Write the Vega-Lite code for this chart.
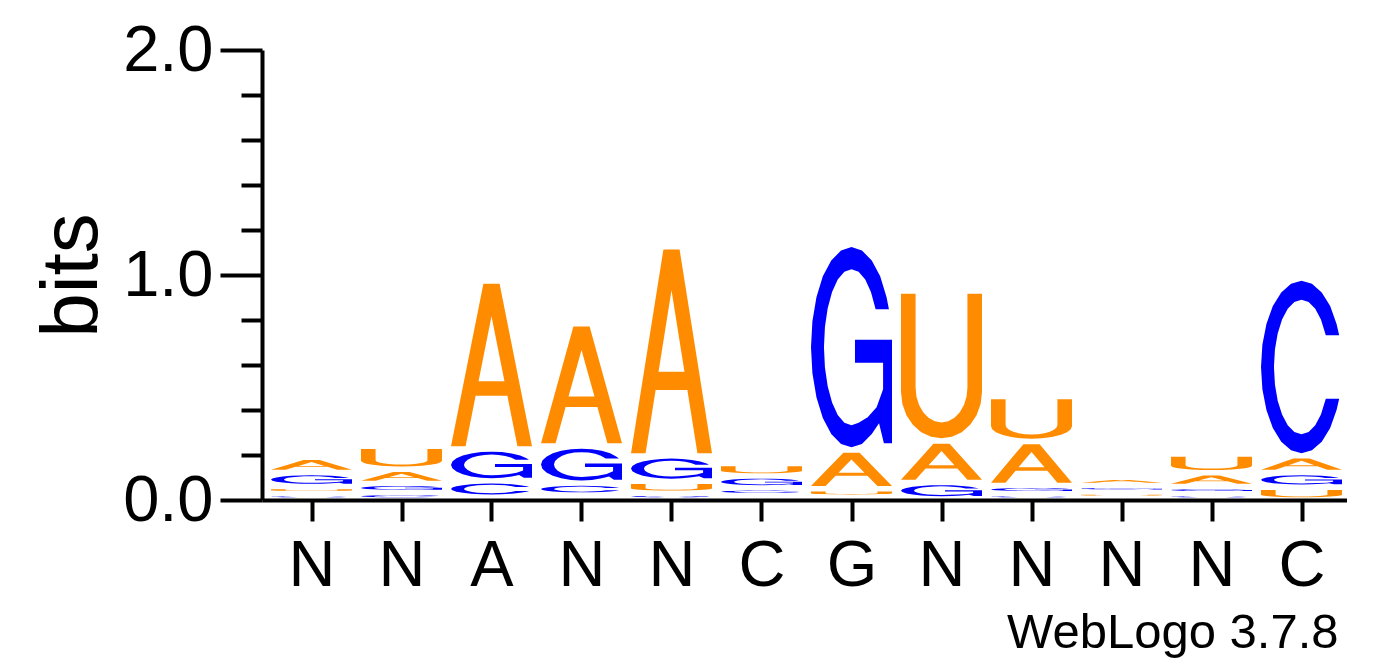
{
  "$schema": "https://vega.github.io/schema/vega-lite/v6.json",
  "description": "Sequence logo (WebLogo style), letter glyphs stacked by information content",
  "autosize": "none",
  "width": 1084.5,
  "height": 450,
  "padding": {"left": 262, "top": 50, "right": 45.5, "bottom": 167},
  "config": {
    "font": "Liberation Sans",
    "view": {"stroke": null},
    "axis": {
      "grid": false,
      "domainColor": "black",
      "domainWidth": 4,
      "tickColor": "black",
      "tickWidth": 4,
      "labelColor": "black",
      "labelFont": "Liberation Sans",
      "labelFontSize": 65,
      "titleFont": "Liberation Sans",
      "titleColor": "black",
      "titleFontWeight": "normal"
    }
  },
  "title": {
    "text": "WebLogo 3.7.8",
    "orient": "bottom",
    "anchor": "end",
    "font": "Liberation Sans",
    "fontSize": 49,
    "fontWeight": "normal",
    "color": "black",
    "offset": 11,
    "dx": -8
  },
  "datasets": {
    "glyphs": [
      {"base": "A",
       "gx": [0, 0.18, 0.304, 0.696, 0.82, 1, 0.6, 0.4, 0.24, 0.42, 0.5, 0.66, 0.34, 0.42, 0.24, 0],
       "gy": [0, 0, 0.31, 0.31, 0, 0, 1, 1, 0.6, 0.6, 0.8, 0.4, 0.4, 0.6, 0.6, 0]},
      {"base": "U",
       "gx": [0, 0, 0.017, 0.067, 0.146, 0.25, 0.371, 0.5, 0.629, 0.75, 0.854, 0.933, 0.983, 1, 1, 0.82, 0.82, 0.809, 0.777, 0.726, 0.66, 0.583, 0.5, 0.417, 0.34, 0.274, 0.223, 0.191, 0.18, 0.18, 0],
       "gy": [1, 0.32, 0.237, 0.16, 0.094, 0.043, 0.011, 0, 0.011, 0.043, 0.094, 0.16, 0.237, 0.32, 1, 1, 0.35, 0.288, 0.23, 0.18, 0.142, 0.118, 0.11, 0.118, 0.142, 0.18, 0.23, 0.288, 0.35, 1, 1]},
      {"base": "C",
       "gx": [0.965, 0.933, 0.854, 0.75, 0.629, 0.5, 0.371, 0.25, 0.146, 0.067, 0.017, 0, 0.017, 0.067, 0.146, 0.25, 0.371, 0.5, 0.629, 0.75, 0.854, 0.933, 0.965, 0.8, 0.74, 0.67, 0.588, 0.5, 0.412, 0.33, 0.26, 0.206, 0.172, 0.16, 0.172, 0.206, 0.26, 0.33, 0.412, 0.5, 0.588, 0.67, 0.74, 0.8, 0.965],
       "gy": [0.684, 0.75, 0.854, 0.933, 0.983, 1, 0.983, 0.933, 0.854, 0.75, 0.629, 0.5, 0.371, 0.25, 0.146, 0.067, 0.017, 0, 0.017, 0.067, 0.146, 0.25, 0.316, 0.316, 0.224, 0.162, 0.123, 0.11, 0.123, 0.162, 0.224, 0.305, 0.399, 0.5, 0.601, 0.695, 0.776, 0.838, 0.877, 0.89, 0.877, 0.838, 0.776, 0.684, 0.684]},
      {"base": "G",
       "gx": [0.962, 0.933, 0.854, 0.75, 0.629, 0.5, 0.371, 0.25, 0.146, 0.067, 0.017, 0, 0.017, 0.067, 0.146, 0.25, 0.371, 0.5, 0.629, 0.75, 0.84, 0.9, 1, 1, 0.543, 0.543, 0.89, 0.89, 0.81, 0.7, 0.588, 0.5, 0.412, 0.33, 0.26, 0.206, 0.172, 0.16, 0.172, 0.206, 0.26, 0.33, 0.412, 0.5, 0.588, 0.67, 0.74, 0.798, 0.962],
       "gy": [0.69, 0.75, 0.854, 0.933, 0.983, 1, 0.983, 0.933, 0.854, 0.75, 0.629, 0.5, 0.371, 0.25, 0.146, 0.067, 0.017, 0, 0.017, 0.067, 0.12, 0.02, 0.02, 0.537, 0.537, 0.423, 0.423, 0.29, 0.2, 0.15, 0.123, 0.11, 0.123, 0.162, 0.224, 0.305, 0.399, 0.5, 0.601, 0.695, 0.776, 0.838, 0.877, 0.89, 0.877, 0.838, 0.776, 0.69, 0.69]}
    ]
  },
  "data": {
    "values": [
      {"pos": 1, "base": "C", "bits": 0.028}, {"pos": 1, "base": "U", "bits": 0.032}, {"pos": 1, "base": "G", "bits": 0.062}, {"pos": 1, "base": "A", "bits": 0.068},
      {"pos": 2, "base": "C", "bits": 0.033}, {"pos": 2, "base": "G", "bits": 0.041}, {"pos": 2, "base": "A", "bits": 0.063}, {"pos": 2, "base": "U", "bits": 0.102},
      {"pos": 3, "base": "U", "bits": 0.013}, {"pos": 3, "base": "C", "bits": 0.072}, {"pos": 3, "base": "G", "bits": 0.142}, {"pos": 3, "base": "A", "bits": 0.746},
      {"pos": 4, "base": "U", "bits": 0.022}, {"pos": 4, "base": "C", "bits": 0.053}, {"pos": 4, "base": "G", "bits": 0.165}, {"pos": 4, "base": "A", "bits": 0.543},
      {"pos": 5, "base": "C", "bits": 0.030}, {"pos": 5, "base": "U", "bits": 0.053}, {"pos": 5, "base": "G", "bits": 0.113}, {"pos": 5, "base": "A", "bits": 0.929},
      {"pos": 6, "base": "A", "bits": 0.020}, {"pos": 6, "base": "C", "bits": 0.034}, {"pos": 6, "base": "G", "bits": 0.053}, {"pos": 6, "base": "U", "bits": 0.055},
      {"pos": 7, "base": "C", "bits": 0.013}, {"pos": 7, "base": "U", "bits": 0.037}, {"pos": 7, "base": "A", "bits": 0.172}, {"pos": 7, "base": "G", "bits": 0.914},
      {"pos": 8, "base": "C", "bits": 0.005}, {"pos": 8, "base": "G", "bits": 0.073}, {"pos": 8, "base": "A", "bits": 0.184}, {"pos": 8, "base": "U", "bits": 0.667},
      {"pos": 9, "base": "C", "bits": 0.028}, {"pos": 9, "base": "G", "bits": 0.037}, {"pos": 9, "base": "A", "bits": 0.195}, {"pos": 9, "base": "U", "bits": 0.200},
      {"pos": 10, "base": "C", "bits": 0.008}, {"pos": 10, "base": "U", "bits": 0.027}, {"pos": 10, "base": "G", "bits": 0.030}, {"pos": 10, "base": "A", "bits": 0.036},
      {"pos": 11, "base": "C", "bits": 0.028}, {"pos": 11, "base": "G", "bits": 0.032}, {"pos": 11, "base": "A", "bits": 0.061}, {"pos": 11, "base": "U", "bits": 0.083},
      {"pos": 12, "base": "U", "bits": 0.057}, {"pos": 12, "base": "G", "bits": 0.065}, {"pos": 12, "base": "A", "bits": 0.074}, {"pos": 12, "base": "C", "bits": 0.790}
    ]
  },
  "transform": [
    {"stack": "bits", "groupby": ["pos"], "sort": [{"field": "bits", "order": "ascending"}], "as": ["y0", "y1"]},
    {"lookup": "base", "from": {"data": {"name": "glyphs"}, "key": "base", "fields": ["gx", "gy"]}},
    {"flatten": ["gx", "gy"]},
    {"window": [{"op": "row_number", "as": "k"}], "groupby": ["pos", "base"]},
    {"calculate": "datum.pos - 0.45 + datum.gx * 0.9", "as": "x"},
    {"calculate": "datum.y0 + 0.012 + datum.gy * max(0, datum.y1 - datum.y0 - 0.024)", "as": "y"}
  ],
  "mark": {"type": "line", "strokeWidth": 0, "strokeOpacity": 0, "fillOpacity": 1, "interpolate": "linear"},
  "encoding": {
    "x": {
      "field": "x",
      "type": "quantitative",
      "scale": {"domain": [0.45, 12.5], "nice": false, "zero": false},
      "axis": {
        "title": null,
        "values": [1, 2, 3, 4, 5, 6, 7, 8, 9, 10, 11, 12],
        "labelExpr": "['N','N','A','N','N','C','G','N','N','N','N','C'][datum.value - 1]",
        "domainWidth": 4,
        "tickWidth": 4,
        "tickSize": 21,
        "labelPadding": 13,
        "labelAngle": 0,
        "labelFlush": false,
        "labelOverlap": false
      }
    },
    "y": {
      "field": "y",
      "type": "quantitative",
      "scale": {"domain": [0, 2], "nice": false, "zero": true},
      "axis": {
        "title": "bits",
        "titleFontSize": 80,
        "titlePadding": 9,
        "values": [0, 0.2, 0.4, 0.6, 0.8, 1, 1.2, 1.4, 1.6, 1.8, 2],
        "labelExpr": "datum.value == 0 || datum.value == 1 || datum.value == 2 ? format(datum.value, '.1f') : ''",
        "domainWidth": 4,
        "tickWidth": 4,
        "tickSize": {"condition": {"test": "datum.value == 0 || datum.value == 1 || datum.value == 2", "value": 42}, "value": 21},
        "labelPadding": 7,
        "labelFlush": false,
        "labelOverlap": false
      }
    },
    "detail": [{"field": "pos"}, {"field": "base"}],
    "order": {"field": "k", "type": "quantitative"},
    "fill": {
      "field": "base",
      "type": "nominal",
      "scale": {"domain": ["A", "C", "G", "U"], "range": ["#FF8C00", "#0000FF", "#0000FF", "#FF8C00"]},
      "legend": null
    }
  }
}
